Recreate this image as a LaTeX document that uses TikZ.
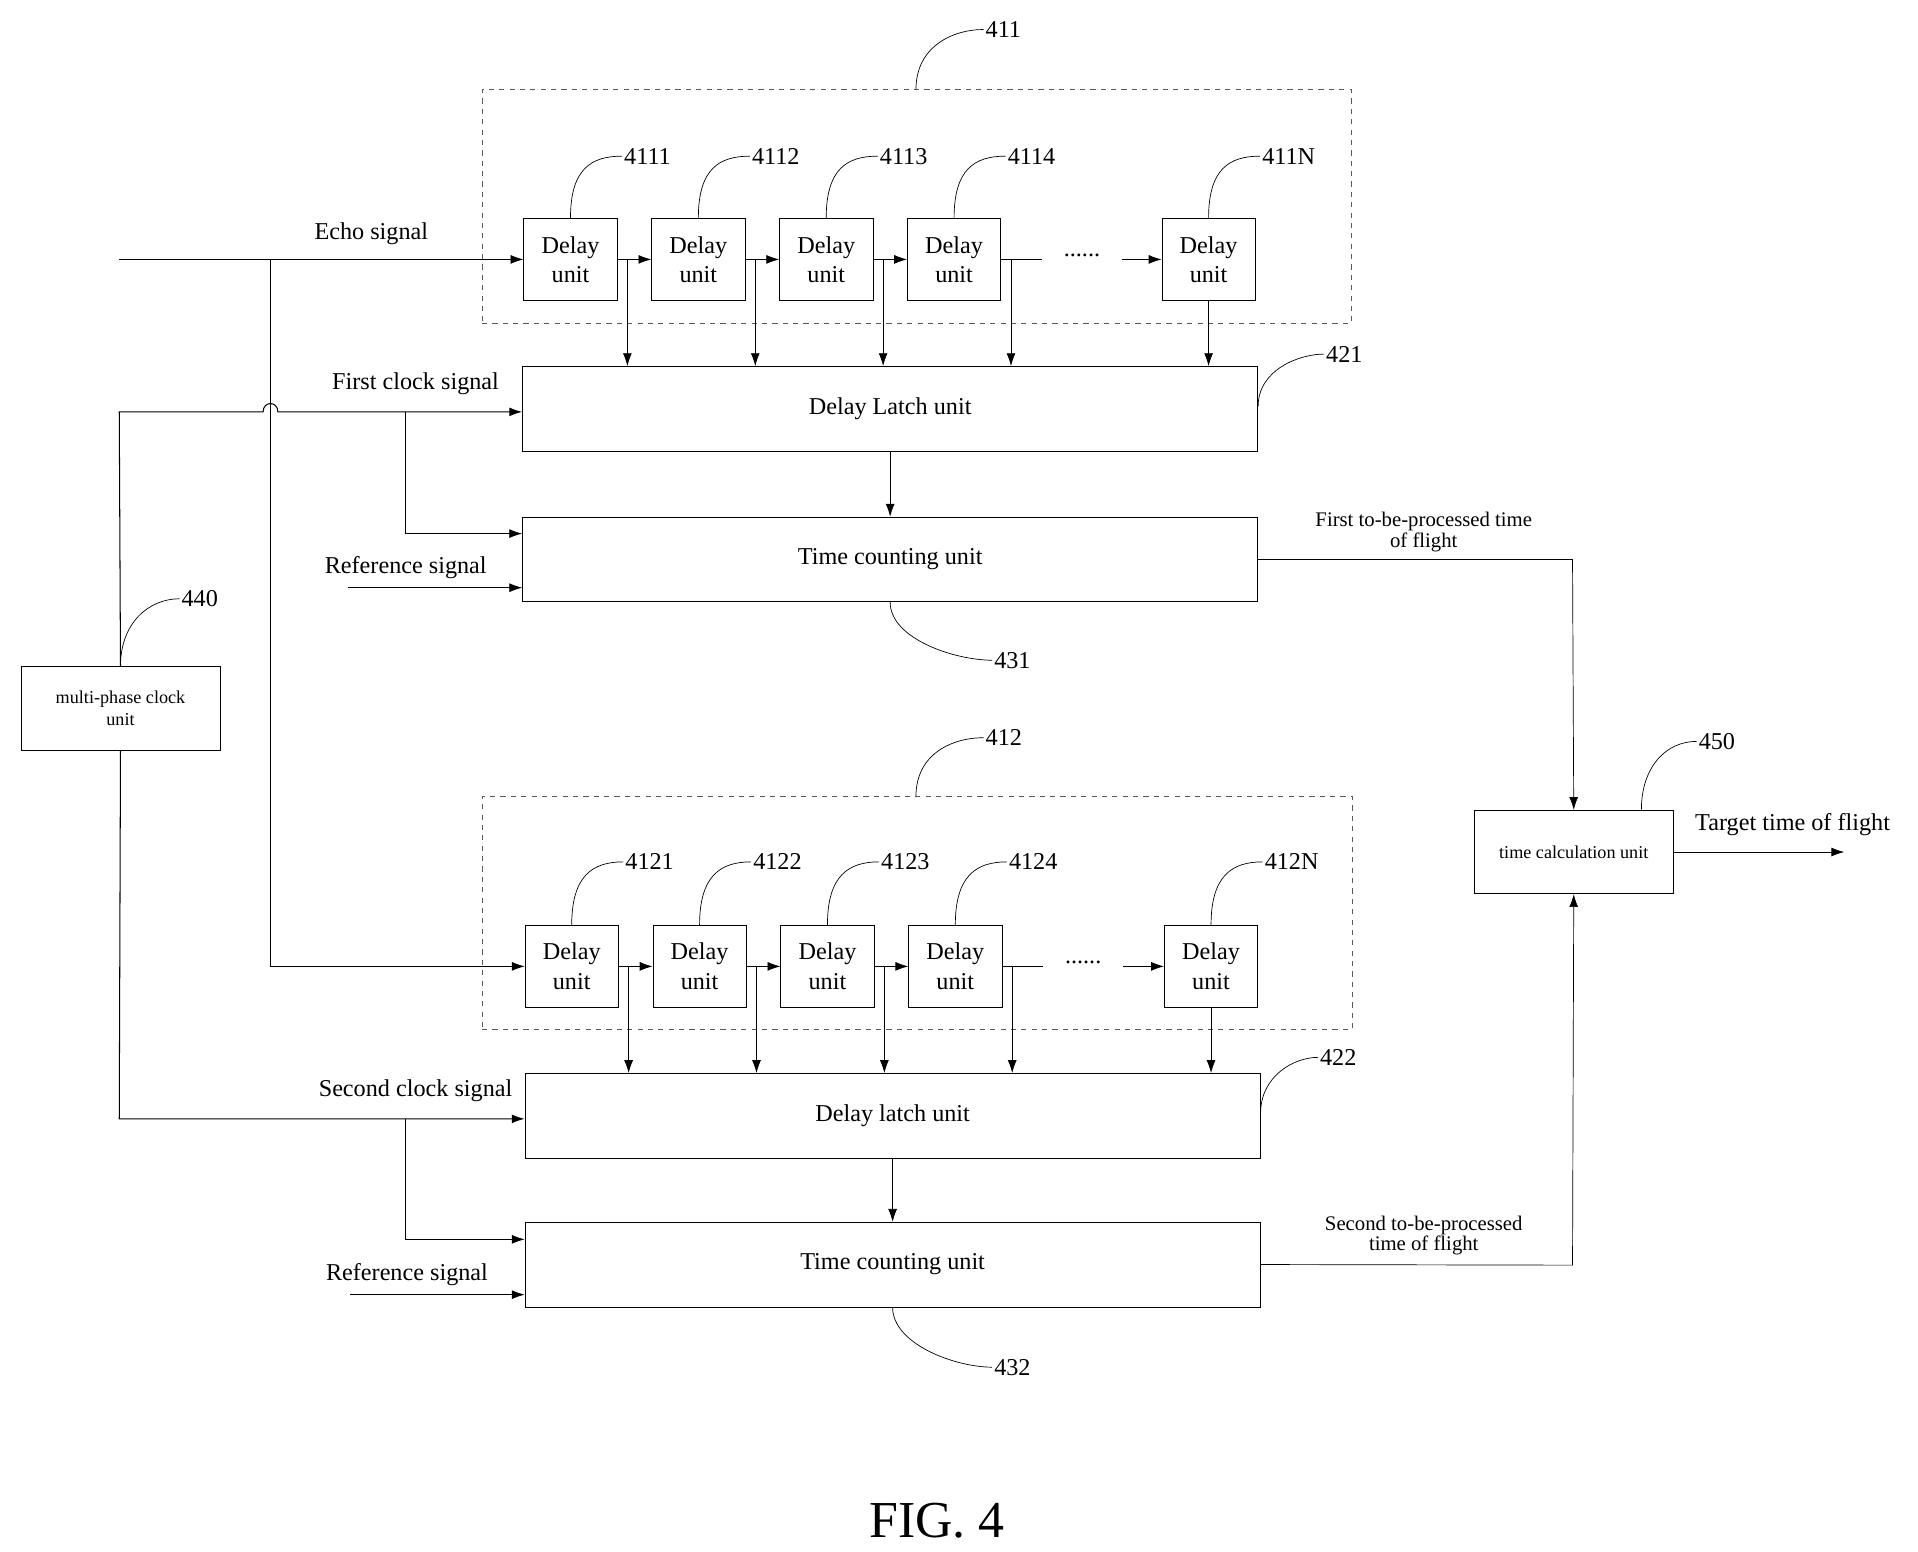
\documentclass[tikz,border=0pt]{standalone}
\usepackage{fontspec}
\setmainfont{Liberation Serif}
\usetikzlibrary{positioning,arrows.meta}
\tikzset{>={Latex[length=2.6mm,width=1.8mm]},
  unit/.style={draw,align=center,minimum width=19mm,minimum height=16.75mm,inner sep=0pt,font=\fontsize{14}{17}\selectfont},
  block/.style={draw,minimum width=149.5mm,minimum height=17.25mm,font=\fontsize{14}{17}\selectfont},
  small/.style={draw,align=center,minimum width=40.5mm,minimum height=17mm,inner sep=1pt,font=\fontsize{10.5}{13}\selectfont},
  group/.style={draw,dashed,gray!70!black},
  num/.style={font=\fontsize{14}{17}\selectfont,inner sep=1pt},
  lbl/.style={font=\fontsize{14}{17}\selectfont,inner sep=1pt},
  note/.style={align=center,font=\fontsize{12}{12}\selectfont,inner sep=1pt},
  callout/.style={thin}}
\begin{document}
\begin{tikzpicture}[x=0.25mm,y=-0.25mm]
\useasboundingbox (0,0) rectangle (1560,1262);
% first delay line
\node[group,minimum width=176.75mm,minimum height=47.5mm] (g1) at (745.5,168) {};
\node[num,anchor=west] (n411) at (800,24) {411};
\draw[callout] (g1.north -| 745,0) .. controls +(0,-35) and +(-25,0) .. (n411.west);
\foreach \i/\x/\n in {1/464/4111,2/568/4112,3/672/4113,4/776/4114,5/983/411N}{
  \node[unit] (a\i) at (\x,211) {Delay\\unit};
  \node[num,anchor=west] (na\i) at (\x+42,127) {\n};
  \draw[callout] (a\i.north) .. controls +(0,-40) and +(-25,0) .. (na\i.west);
}
\node[lbl,minimum width=16mm] (dots1) at (880,211) {\raisebox{1.5mm}{......}};
\draw[->] (a1) -- (a2);
\draw[->] (a2) -- (a3);
\draw[->] (a3) -- (a4);
\draw (a4) -- (dots1.west);
\draw[->] (dots1.east) -- (a5);
\node[block] (l1) at (724,332.5) {Delay Latch unit};
\node[block] (t1) at (724,455) {Time counting unit};
\foreach \i in {1,...,4}
  \draw[->] ([xshift=2mm]a\i.east) -- ([xshift=2mm]a\i.east |- l1.north);
\draw[->] (a5.south) -- (a5.south |- l1.north);
\draw[->] (l1) -- (t1);
\node[num,anchor=west] (n421) at (1077,288) {421};
\draw[callout] (l1.east) ++(0,-2) .. controls +(0,-30) and +(-20,0) .. (n421.west);
\node[num,anchor=west] (n431) at (807,537) {431};
\draw[callout] (t1.south) .. controls +(0,30) and +(-30,0) .. (n431.west);
% second delay line
\node[group,minimum width=177mm,minimum height=47.25mm] (g2) at (746,742.5) {};
\node[num,anchor=west] (n412) at (800,600) {412};
\draw[callout] (g2.north -| 745,0) .. controls +(0,-35) and +(-25,0) .. (n412.west);
\foreach \i/\x/\n in {1/465/4121,2/569/4122,3/673/4123,4/777/4124,5/985/412N}{
  \node[unit] (b\i) at (\x,786) {Delay\\unit};
  \node[num,anchor=west] (nb\i) at (\x+42,701) {\n};
  \draw[callout] (b\i.north) .. controls +(0,-40) and +(-25,0) .. (nb\i.west);
}
\node[lbl,minimum width=16mm] (dots2) at (881,786) {\raisebox{1.5mm}{......}};
\draw[->] (b1) -- (b2);
\draw[->] (b2) -- (b3);
\draw[->] (b3) -- (b4);
\draw (b4) -- (dots2.west);
\draw[->] (dots2.east) -- (b5);
\node[block] (l2) at (726,907.5) {Delay latch unit};
\node[block] (t2) at (726,1028.5) {Time counting unit};
\foreach \i in {1,...,4}
  \draw[->] ([xshift=2mm]b\i.east) -- ([xshift=2mm]b\i.east |- l2.north);
\draw[->] (b5.south) -- (b5.south |- l2.north);
\draw[->] (l2) -- (t2);
\node[num,anchor=west] (n422) at (1072,860) {422};
\draw[callout] (l2.east) ++(0,-2) .. controls +(0,-30) and +(-20,0) .. (n422.west);
\node[num,anchor=west] (n432) at (807,1112) {432};
\draw[callout] (t2.south) .. controls +(0,30) and +(-30,0) .. (n432.west);
% echo signal
\coordinate (echo) at (97,211);
\coordinate (split) at (220,211);
\draw[->] (echo) -- (a1.west);
\draw[->] (split) -- (220,786) -- (b1.west);
\node[lbl] at (302,190) {Echo signal};
% clock
\node[small] (clk) at (98,576) {multi-phase clock\\unit};
\node[num,anchor=west] (n440) at (146,487) {440};
\draw[callout] (clk.north) .. controls +(0,-35) and +(-25,0) .. (n440.west);
\draw[->,semithick] (clk.north) -- (97,335) -- (214,335) .. controls (214,326) and (226,326) .. (226,335) -- (l1.west |- 0,335);
\draw[->] (330,335) -- (330,434) -- (t1.west |- 0,434);
\draw[->,semithick] (clk.south) -- (97,910) -- (l2.west |- 0,910);
\draw[->] (330,910) -- (330,1008) -- (t2.west |- 0,1008);
\node[lbl] at (338,312) {First clock signal};
\node[lbl] at (338,887) {Second clock signal};
\coordinate (ref1) at (283,478);
\coordinate (ref2) at (285,1053);
\draw[->] (ref1) -- (t1.west |- ref1);
\draw[->] (ref2) -- (t2.west |- ref2);
\node[lbl] at (330,462) {Reference signal};
\node[lbl] at (331,1037) {Reference signal};
% time calculation
\node[small] (calc) at (1280,693) {time calculation unit};
\draw[->] (t1.east) -- (1279,455) -- (calc.north);
\draw[->] (t2.east) -- (1279,1029) -- (calc.south);
\node[note] at (1158,433) {First to-be-processed time\\of flight};
\node[note] at (1158,1005) {Second to-be-processed\\time of flight};
\coordinate (out) at (1500,693);
\draw[->] (calc.east) -- (out);
\node[lbl] at (1458,671) {Target time of flight};
\node[num,anchor=west] (n450) at (1380,603) {450};
\draw[callout] (calc.north -| 1335,0) .. controls +(0,-35) and +(-25,0) .. (n450.west);
\node[font=\fontsize{30}{34}\selectfont] at (762,1237) {FIG. 4};
\end{tikzpicture}
\end{document}
